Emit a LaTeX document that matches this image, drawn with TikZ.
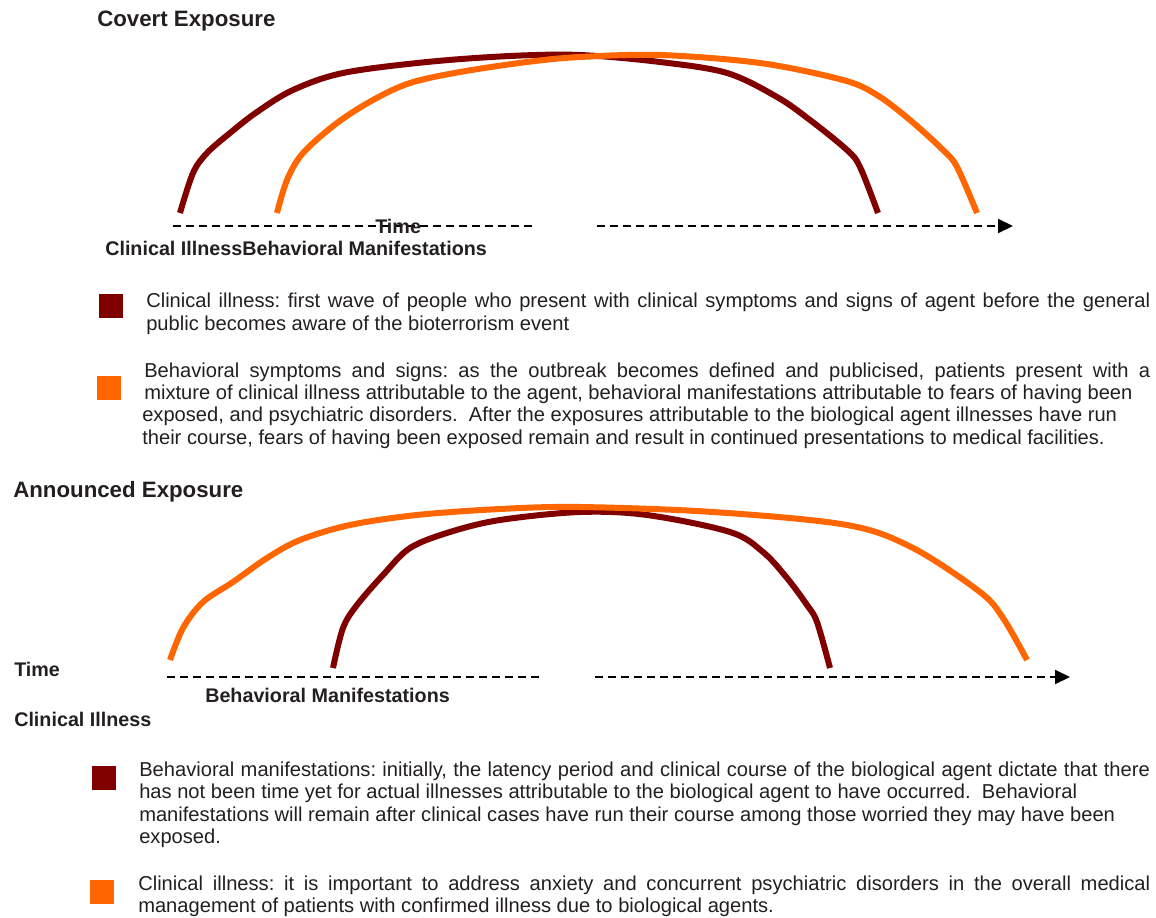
\documentclass[tikz,border=0pt]{standalone}
\usepackage{fontspec}
\setmainfont{Liberation Sans}
\usetikzlibrary{arrows.meta}
\definecolor{cRed}{RGB}{128,0,0}
\definecolor{cOrange}{RGB}{255,102,0}
\definecolor{txt}{RGB}{35,31,32}
\begin{document}
\frenchspacing
\begin{tikzpicture}[x=0.75pt,y=-0.75pt,
  arcline/.style={line width=4.5pt, line join=round},
  timeline/.style={line width=1.5pt, dash pattern=on 6pt off 3.75pt, black},
  heading/.style={anchor=base west, inner sep=0pt, font=\fontsize{16.7}{20}\selectfont\bfseries, text=txt},
  lab/.style={anchor=base west, inner sep=0pt, font=\fontsize{14.8}{17}\selectfont\bfseries, text=txt},
  legtext/.style={anchor=base west, inner sep=0pt, font=\fontsize{15.1}{18}\selectfont, text=txt},
  swatch/.style={minimum size=18pt, inner sep=0pt, draw=none}]
\useasboundingbox (0,0) rectangle (1156,917);

% ---------- Covert exposure ----------
\node[heading] (h1) at (97,26.5) {Covert Exposure};

\draw[arcline, cRed] plot[smooth, tension=0.55] coordinates {(180,213) (193,173) (207,153) (230,133) (257,112) (293,90) (343,73) (427,62) (510,56) (580,55) (660,62) (727,73) (777,97) (810,120) (847,150) (860,167) (878,213)};
\draw[arcline, cOrange] plot[smooth, tension=0.55] coordinates {(277,213) (287,180) (303,153) (337,123) (373,100) (410,83) (460,72) (527,62) (580,57) (660,55) (760,63) (843,80) (877,95) (910,120) (943,150) (957,167) (977,213)};

\coordinate (a1) at (173,226);
\coordinate (a2) at (534,226);
\coordinate (a3) at (597,226);
\coordinate (a4) at (1013,226);
\draw[timeline] (a1) -- (a2);
\draw[timeline, -{Triangle[length=11.25pt,width=10.5pt]}] (a3) -- (a4);

\node[lab] (t1) at (375,233) {Time};
\node[lab] (c1) at (105,255) {Clinical IllnessBehavioral Manifestations};

\node[swatch, fill=cRed] (s1) at (111,306) {};
\node[legtext] (l1a) at (146,307) {\makebox[753pt][s]{Clinical illness: first wave of people who present with clinical symptoms and signs of agent before the general}};
\node[legtext] (l1b) at (146,330) {public becomes aware of the bioterrorism event};

\node[swatch, fill=cOrange] (s2) at (109,388) {};
\node[legtext] (l2a) at (144,377) {\makebox[754.5pt][s]{Behavioral symptoms and signs: as the outbreak becomes defined and publicised, patients present with a}};
\node[legtext] (l2b) at (144,399) {mixture of clinical illness attributable to the agent, behavioral manifestations attributable to fears of having been};
\node[legtext] (l2c) at (142,421.5) {exposed, and psychiatric disorders.\ \ After the exposures attributable to the biological agent illnesses have run};
\node[legtext] (l2d) at (142,444) {their course, fears of having been exposed remain and result in continued presentations to medical facilities.};

% ---------- Announced exposure ----------
\node[heading] (h2) at (13,497) {Announced Exposure};

\draw[arcline, cRed] plot[smooth, tension=0.55] coordinates {(333,668) (343,628) (357,605) (383,575) (410,548) (450,532) (500,520) (580,512) (647,515) (730,532) (763,552) (787,578) (807,605) (817,622) (830,668)};
\draw[arcline, cOrange] plot[smooth, tension=0.55] coordinates {(170,660) (183,628) (203,602) (233,582) (267,558) (300,540) (350,525) (417,515) (500,509) (580,507) (713,512) (847,525) (913,548) (980,592) (1003,618) (1027,660)};

\coordinate (b1) at (167,677);
\coordinate (b2) at (543,677);
\coordinate (b3) at (595,677);
\coordinate (b4) at (1070,677);
\draw[timeline] (b1) -- (b2);
\draw[timeline, -{Triangle[length=11.25pt,width=10.5pt]}] (b3) -- (b4);

\node[lab] (t2) at (14,676.7) {Time};
\node[lab] (m2) at (205,702) {Behavioral Manifestations};
\node[lab] (c2) at (14,726) {Clinical Illness};

\node[swatch, fill=cRed] (s3) at (104,778) {};
\node[legtext] (l3a) at (139,776) {\makebox[758pt][s]{Behavioral manifestations: initially, the latency period and clinical course of the biological agent dictate that there}};
\node[legtext] (l3b) at (139,798) {has not been time yet for actual illnesses attributable to the biological agent to have occurred.\ \ Behavioral};
\node[legtext] (l3c) at (139,821) {manifestations will remain after clinical cases have run their course among those worried they may have been};
\node[legtext] (l3d) at (139,843) {exposed.};

\node[swatch, fill=cOrange] (s4) at (102,892) {};
\node[legtext] (l4a) at (138,890) {\makebox[759pt][s]{Clinical illness: it is important to address anxiety and concurrent psychiatric disorders in the overall medical}};
\node[legtext] (l4b) at (138,912) {management of patients with confirmed illness due to biological agents.};
\end{tikzpicture}
\end{document}
